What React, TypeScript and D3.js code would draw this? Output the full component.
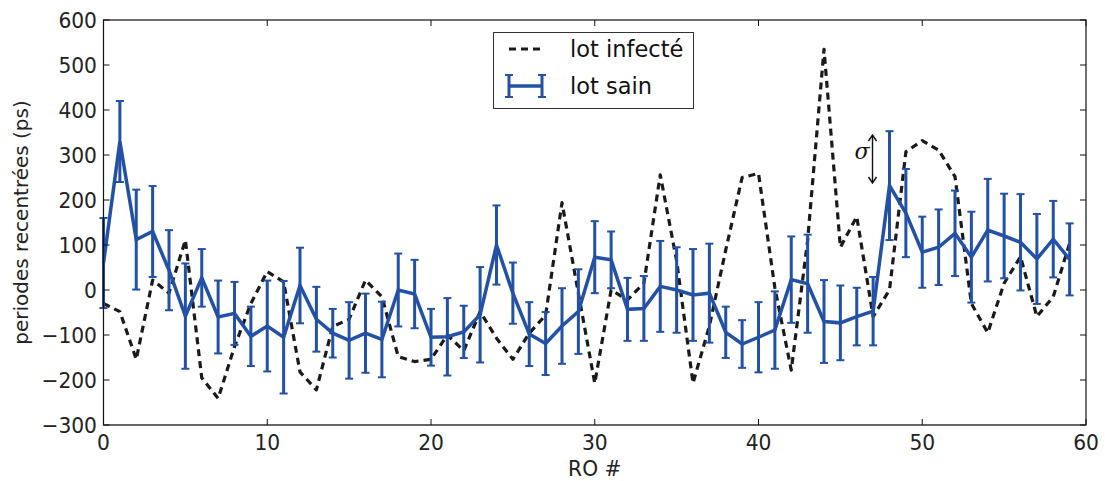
import React from "react";
import * as d3 from "d3";

const roIndex: number[] = d3.range(60);

const lotInfecte: number[] = [
  -30, -48, -154, 22, -7, 111, -195, -241, -126, -30,
  41, 18, -182, -222, -81, -65, 22, -15, -148, -159,
  -154, -100, -135, -48, -107, -154, -96, -56, 194, -7,
  -207, 0, -22, 15, 256, 65, -207, -80, 89, 250,
  259, 5, -178, 110, 535, 95, 163, -59, 0, 307,
  332, 311, 252, -30, -95, 15, 74, -59, -15, 104,
];

const lotSain: number[] = [
  60, 330, 112, 130, 44, -58, 27, -60, -52, -103,
  -80, -105, 10, -65, -96, -112, -96, -110, 0, -9,
  -105, -104, -93, -55, 100, -7, -98, -119, -80, -48,
  73, 67, -43, -41, 8, 0, -11, -7, -94, -120,
  -105, -89, 23, 14, -70, -73, -59, -47, 232, 171,
  84, 95, 126, 73, 133, 120, 106, 69, 113, 68,
];

const lotSainErr: number[] = [
  100, 90, 111, 101, 89, 117, 64, 81, 70, 66,
  101, 125, 84, 72, 54, 85, 88, 84, 81, 76,
  63, 86, 58, 106, 88, 68, 71, 70, 84, 94,
  80, 63, 70, 72, 101, 95, 102, 110, 57, 53,
  78, 86, 96, 109, 92, 83, 64, 76, 121, 98,
  79, 84, 95, 101, 114, 94, 107, 100, 85, 80,
];

const xTicks: number[] = [0, 10, 20, 30, 40, 50, 60];
const yTicks: number[] = [-300, -200, -100, 0, 100, 200, 300, 400, 500, 600];

const legendLabels: string[] = ["lot infecté", "lot sain"];
const xLabel = "RO #";
const yLabel = "periodes recentrées (ps)";

const W = 1105;
const H = 481;
const left = 103.5;
const right = 1086;
const top = 20;
const bottom = 425;

const BLUE = "#2251a6";
const FONT = "DejaVu Sans, sans-serif";

export default function App() {
  const x = d3.scaleLinear().domain([0, 60]).range([left, right]);
  const y = d3.scaleLinear().domain([-300, 600]).range([bottom, top]);

  const infLine = d3
    .line<number>()
    .x((_, i) => x(roIndex[i]))
    .y((d) => y(d))(lotInfecte) as string;

  const sainLine = d3
    .line<number>()
    .x((_, i) => x(roIndex[i]))
    .y((d) => y(d))(lotSain) as string;

  const tickLen = 6;
  const cap = 4;

  return (
    <svg
      width={W}
      height={H}
      style={{ position: "absolute", left: 0, top: 0, background: "#fff" }}
      fontFamily={FONT}
    >
      <rect x={0} y={0} width={W} height={H} fill="#fff" />
      {/* dashed infected line */}
      <path
        d={infLine}
        fill="none"
        stroke="#1a1a1a"
        strokeWidth={3.2}
        strokeDasharray="7,5"
        strokeLinejoin="round"
      />
      {/* error bars */}
      {lotSain.map((v, i) => {
        const cx = x(roIndex[i]);
        const y1 = y(v + lotSainErr[i]);
        const y2 = y(v - lotSainErr[i]);
        return (
          <g key={i} stroke={BLUE} strokeWidth={3}>
            <line x1={cx} x2={cx} y1={y1} y2={y2} />
            <line x1={cx - cap} x2={cx + cap} y1={y1} y2={y1} strokeWidth={2} />
            <line x1={cx - cap} x2={cx + cap} y1={y2} y2={y2} strokeWidth={2} />
          </g>
        );
      })}
      <path d={sainLine} fill="none" stroke={BLUE} strokeWidth={3.5} strokeLinejoin="miter" />

      {/* frame */}
      <rect
        x={left}
        y={top}
        width={right - left}
        height={bottom - top}
        fill="none"
        stroke="#111"
        strokeWidth={1.2}
      />
      <line x1={left} x2={right} y1={bottom} y2={bottom} stroke="#666" strokeWidth={2} />

      {/* x ticks */}
      {xTicks.map((t) => (
        <g key={"x" + t}>
          <line x1={x(t)} x2={x(t)} y1={bottom} y2={bottom - tickLen} stroke="#111" strokeWidth={1} />
          <line x1={x(t)} x2={x(t)} y1={top} y2={top + tickLen} stroke="#111" strokeWidth={1} />
          <text
            transform={`translate(${x(t)},450) scale(0.92,1)`}
            textAnchor="middle"
            fontSize={22}
            fill="#222"
          >
            {t}
          </text>
        </g>
      ))}
      {/* y ticks */}
      {yTicks.map((t) => (
        <g key={"y" + t}>
          <line x1={left} x2={left + tickLen} y1={y(t)} y2={y(t)} stroke="#111" strokeWidth={1} />
          <line x1={right} x2={right - tickLen} y1={y(t)} y2={y(t)} stroke="#111" strokeWidth={1} />
          <text
            transform={`translate(97,${y(t)}) scale(0.92,1)`}
            dy="0.36em"
            textAnchor="end"
            fontSize={22}
            fill="#222"
          >
            {t < 0 ? "\u2212" + Math.abs(t) : String(t)}
          </text>
        </g>
      ))}

      {/* axis labels */}
      <text
        transform={`translate(${(left + right) / 2},476) scale(0.92,1)`}
        textAnchor="middle"
        fontSize={22}
        fill="#222"
      >
        {xLabel}
      </text>
      <text
        transform={`translate(28,${(top + bottom) / 2}) rotate(-90)`}
        textAnchor="middle"
        fontSize={20}
        fill="#222"
      >
        {yLabel}
      </text>

      {/* sigma annotation */}
      <g stroke="#111" strokeWidth={1.4} fill="none">
        <line x1={872.5} x2={872.5} y1={136} y2={182} />
        <polyline points="868.5,141 872.5,135 876.5,141" />
        <polyline points="868.5,177 872.5,183 876.5,177" />
      </g>
      <text
        x={862}
        y={159}
        textAnchor="middle"
        fontSize={22}
        fontStyle="italic"
        fontFamily="DejaVu Serif, serif"
        fill="#111"
      >
        σ
      </text>

      {/* legend */}
      <rect x={493.5} y={32.5} width={200} height={76} fill="#fff" stroke="#333" strokeWidth={1} />
      <line
        x1={509}
        x2={541}
        y1={49}
        y2={49}
        stroke="#1a1a1a"
        strokeWidth={3.2}
        strokeDasharray="7,5"
      />
      <text x={570} y={49} dy="0.36em" fontSize={22.5} fill="#111">
        {legendLabels[0]}
      </text>
      <g stroke={BLUE}>
        <line x1={509} x2={542} y1={86} y2={86} strokeWidth={3.5} />
        <line x1={509} x2={509} y1={75} y2={97} strokeWidth={3} />
        <line x1={542} x2={542} y1={75} y2={97} strokeWidth={3} />
        <line x1={505} x2={513} y1={75} y2={75} strokeWidth={2} />
        <line x1={505} x2={513} y1={97} y2={97} strokeWidth={2} />
        <line x1={538} x2={546} y1={75} y2={75} strokeWidth={2} />
        <line x1={538} x2={546} y1={97} y2={97} strokeWidth={2} />
      </g>
      <text x={570} y={86} dy="0.36em" fontSize={22.5} fill="#111">
        {legendLabels[1]}
      </text>
    </svg>
  );
}
